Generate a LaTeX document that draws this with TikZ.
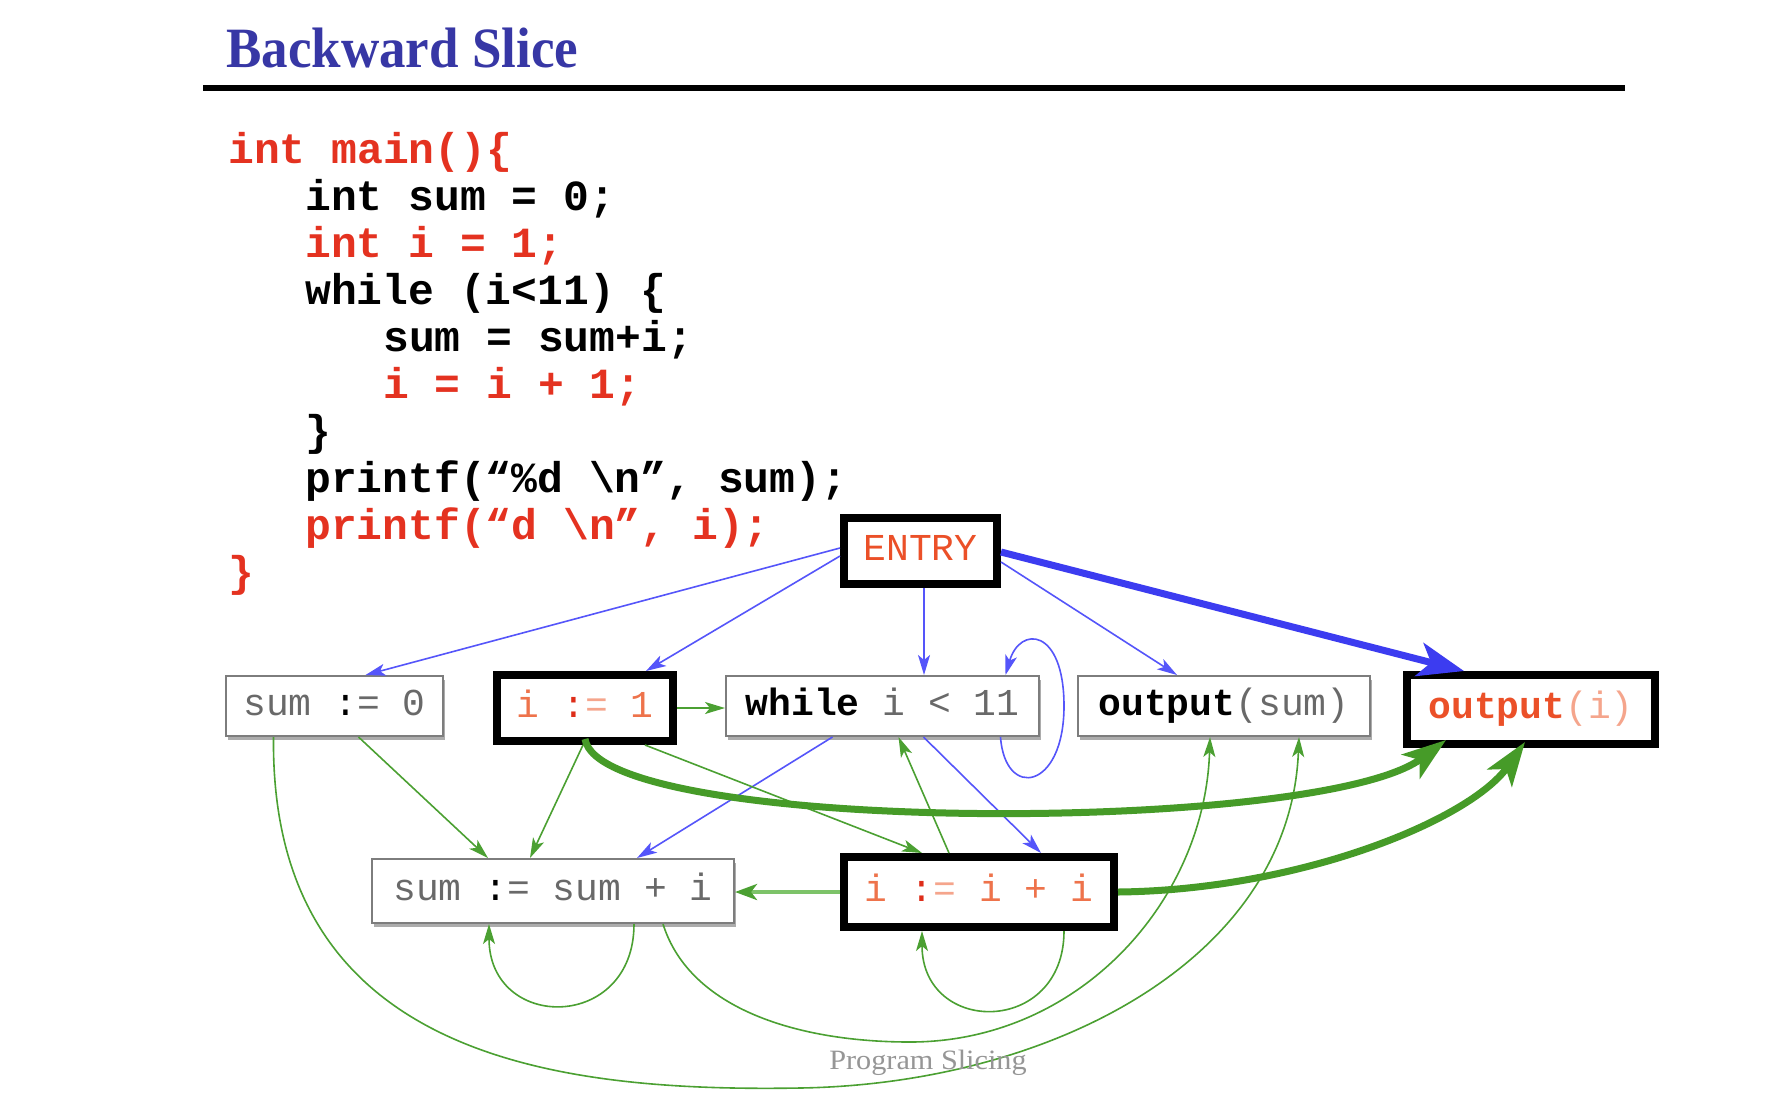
\documentclass[tikz,border=0pt]{standalone}
\usepackage{fontspec}
\usepackage{graphicx}
\setmainfont{Liberation Serif}
\setmonofont{Liberation Mono}
\usetikzlibrary{arrows.meta,shadows,calc}

\definecolor{codered}{RGB}{228,50,32}
\definecolor{titleblue}{RGB}{55,55,165}
\definecolor{ctrlblue}{RGB}{85,85,250}
\definecolor{thickblue}{RGB}{60,60,240}
\definecolor{datagreen}{RGB}{75,160,50}
\definecolor{thickgreen}{RGB}{70,155,40}
\definecolor{lightgreen}{RGB}{125,195,105}
\definecolor{txtgray}{RGB}{105,105,105}
\definecolor{txtorange}{RGB}{238,115,75}
\definecolor{txtred}{RGB}{222,45,25}
\definecolor{txtsalmon}{RGB}{245,165,140}
\definecolor{entryred}{RGB}{235,80,40}
\definecolor{boxgray}{RGB}{125,125,125}
\definecolor{shadowgray}{RGB}{172,172,172}
\definecolor{footgray}{RGB}{150,150,150}

\newcommand\diagnodefont{\fontsize{38}{40}\selectfont\ttfamily}
\newcommand\diagcodefont{\fontsize{43}{47}\selectfont\ttfamily\bfseries}

\begin{document}
\begin{tikzpicture}[x=1pt,y=-1pt,
  codeline/.style={anchor=base west, inner sep=0pt, font=\diagcodefont},
  thinbox/.style={draw=boxgray, line width=2pt, fill=white, inner sep=0pt,
    minimum height=60pt, text height=26pt, text depth=8pt, font=\diagnodefont,
    drop shadow={shadow xshift=1.5pt, shadow yshift=-4pt, fill=shadowgray, opacity=1}},
  thickbox/.style={draw=black, line width=8pt, fill=white, inner sep=0pt,
    text height=26pt, text depth=8pt, font=\diagnodefont},
  ctrl/.style={draw=ctrlblue, line width=1.6pt, -{Stealth[length=20pt,width=12pt,inset=5pt]}},
  ctrlthick/.style={draw=thickblue, line width=7pt, -{Stealth[length=46pt,width=34pt,inset=12pt]}},
  data/.style={draw=datagreen, line width=1.6pt, -{Stealth[length=20pt,width=12pt,inset=5pt]}},
  datamid/.style={draw=lightgreen, line width=4pt, -{Stealth[length=22pt,width=16pt,inset=6pt,color=datagreen]}},
  datathick/.style={draw=thickgreen, line width=7pt, -{Stealth[length=44pt,width=30pt,inset=11pt]}}
]
% page
\fill[white] (0,0) rectangle (1784,1112);
\useasboundingbox (0,0) rectangle (1784,1112);

% heading and rule
\node[anchor=base west, inner sep=0pt, text=titleblue,
      font=\fontsize{57}{60}\selectfont\bfseries] (title) at (226,67)
      {\scalebox{0.93}[1]{Backward Slice}};
\draw[black, line width=6pt] (203,88) -- (1625,88);

% source code
\node[codeline, text=codered] (code1)  at (228,163) {int main()\{};
\node[codeline, text=black]   (code2)  at (305,210) {int sum = 0;};
\node[codeline, text=codered] (code3)  at (305,257) {int i = 1;};
\node[codeline, text=black]   (code4)  at (305,304) {while (i<11) \{};
\node[codeline, text=black]   (code5)  at (383,351) {sum = sum+i;};
\node[codeline, text=codered] (code6)  at (383,398) {i = i + 1;};
\node[codeline, text=black]   (code7)  at (305,445) {\}};
\node[codeline, text=black]   (code8)  at (305,492) {printf(“\%d \textbackslash n”, sum);};
\node[codeline, text=codered] (code9)  at (305,539) {printf(“d \textbackslash n”, i);};
\node[codeline, text=codered] (code10) at (228,586) {\}};

% dependence graph nodes
\node[thickbox, minimum width=153pt, minimum height=66pt] (entry) at (920.5,551)
  {\textcolor{entryred}{ENTRY}};
\node[thinbox, minimum width=217pt] (sum0) at (334.5,706)
  {\textcolor{txtgray}{sum} :\textcolor{txtgray}{= 0}};
\node[thickbox, minimum width=176pt, minimum height=66pt] (i1) at (585,708)
  {\textcolor{txtorange}{i} \textcolor{txtred}{:}\textcolor{txtsalmon}{=} \textcolor{txtorange}{1}};
\node[thinbox, minimum width=313pt] (while) at (882.5,706)
  {\textbf{while} \textcolor{txtgray}{i < 11}};
\node[thinbox, minimum width=292pt] (outsum) at (1224,706)
  {\textbf{output}\textcolor{txtgray}{(sum)}};
\node[thickbox, minimum width=248pt, minimum height=69pt] (outi) at (1531,709.5)
  {\textcolor{entryred}{\textbf{output}}\textcolor{txtsalmon}{(i)}};
\node[thinbox, minimum width=362pt, minimum height=64pt] (sumsum) at (553,891)
  {\textcolor{txtgray}{sum} :\textcolor{txtgray}{= sum + i}};
\node[thickbox, minimum width=270pt, minimum height=70pt] (iii) at (979,892)
  {\textcolor{txtorange}{i} \textcolor{txtred}{:}\textcolor{txtsalmon}{=} \textcolor{txtorange}{i + i}};

% control dependences
\draw[ctrl] ([yshift=3pt]entry.west) -- ([xshift=31pt]sum0.north);
\draw[ctrl] ([yshift=-5pt]entry.west) -- ([xshift=61pt]i1.north);
\draw[ctrl] ([xshift=3.5pt]entry.south) -- ([xshift=41.5pt]while.north);
\draw[ctrl] ([yshift=-11pt]entry.east) -- ([xshift=-47pt]outsum.north);
\draw[ctrlthick] ([yshift=-1pt]entry.east) -- ([xshift=-67pt]outi.north);
\draw[ctrl] ([xshift=118pt]while.south) .. controls (1005,800) and (1064,790) .. (1064,706)
  .. controls (1064,628) and (1020,625) .. ([xshift=123pt]while.north);
\draw[ctrl] ([xshift=-50pt]while.south) -- ([xshift=84pt]sumsum.north);
\draw[ctrl] ([xshift=41pt]while.south) -- ([xshift=62pt]iii.north);

% data dependences
\draw[data] (i1.east) -- (i1.east -| while.west);
\draw[data] ([xshift=24pt]sum0.south) -- ([xshift=-65pt]sumsum.north);
\draw[data] ([xshift=-2pt]i1.south) -- ([xshift=-23pt]sumsum.north);
\draw[data] ([xshift=60pt]i1.south) -- ([xshift=-57pt]iii.north);
\draw[data] ([xshift=-30pt]iii.north) -- ([xshift=16pt]while.south);
\draw[datamid] (iii.west) -- (iii.west -| sumsum.east);
\draw[data] ([xshift=81pt]sumsum.south) .. controls (634,1032) and (489,1032) .. ([xshift=-64pt]sumsum.south);
\draw[data] ([xshift=85pt]iii.south) .. controls (1064,1036) and (922,1036) .. ([xshift=-57pt]iii.south);
\draw[data] ([xshift=110pt]sumsum.south) .. controls (690,1010) and (800,1042) .. (910,1042)
  .. controls (1080,1042) and (1205,900) .. ([xshift=-14pt]outsum.south);
\draw[data] ([xshift=-61pt]sum0.south) .. controls (270,1060) and (560,1092) .. (800,1088)
  .. controls (1050,1084) and (1290,960) .. ([xshift=75pt]outsum.south);
\draw[datathick] ([yshift=6pt]i1.south) .. controls (600,835) and (1320,835) ..
  ([xshift=-85pt,yshift=8pt]outi.south);
\draw[datathick] (iii.east) .. controls (1300,890) and (1470,820) ..
  ([xshift=-6pt,yshift=6pt]outi.south);

% footer
\node[anchor=base, inner sep=0pt, text=footgray, font=\fontsize{28}{30}\selectfont] (footer)
  at (928,1069) {\scalebox{1.08}[1]{Program Slicing}};
\end{tikzpicture}
\end{document}
